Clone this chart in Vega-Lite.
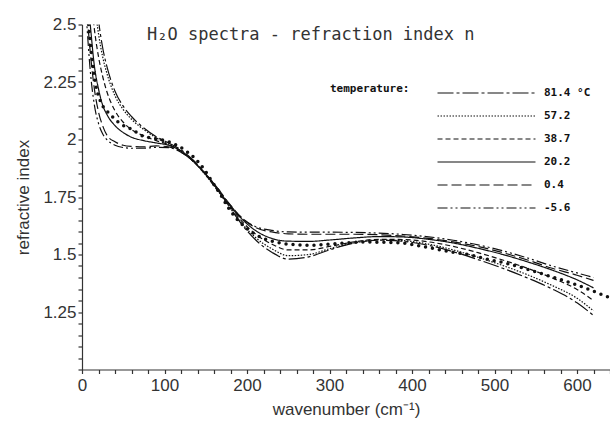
{
  "$schema": "https://vega.github.io/schema/vega-lite/v6.json",
  "width": 528,
  "height": 345,
  "autosize": {"type": "none"},
  "padding": {"left": 82, "top": 24.5, "right": 0, "bottom": 56.5},
  "background": "white",
  "title": {"text": "H₂O spectra - refraction index n", "anchor": "start", "frame": "group", "orient": "top", "offset": -17, "dx": 65, "dy": 24, "baseline": "alphabetic", "font": "DejaVu Sans Mono", "fontSize": 17, "fontWeight": "normal", "color": "#333"},
  "config": {
    "view": {"stroke": null},
    "font": "Liberation Sans",
    "axis": {"grid": false, "domainColor": "#333", "tickColor": "#333", "labelColor": "#333", "titleColor": "#333", "labelFont": "Liberation Sans", "titleFont": "Liberation Sans", "labelFontSize": 17, "titleFontSize": 17, "titleFontWeight": "normal", "tickSize": 4, "domainWidth": 1.2, "tickWidth": 1.2}
  },
  "datasets": {
    "curves": [
      {"t":"81.4","x":5,"n":3.3},{"t":"81.4","x":10,"n":2.95},{"t":"81.4","x":15,"n":2.7},{"t":"81.4","x":20,"n":2.52},{"t":"81.4","x":25,"n":2.40},{"t":"81.4","x":30,"n":2.32},{"t":"81.4","x":40,"n":2.21},{"t":"81.4","x":50,"n":2.145},{"t":"81.4","x":60,"n":2.1},{"t":"81.4","x":75,"n":2.05},{"t":"81.4","x":90,"n":2.012},{"t":"81.4","x":105,"n":1.985},{"t":"81.4","x":120,"n":1.955},{"t":"81.4","x":135,"n":1.91},{"t":"81.4","x":150,"n":1.85},{"t":"81.4","x":165,"n":1.78},{"t":"81.4","x":180,"n":1.70},{"t":"81.4","x":195,"n":1.625},{"t":"81.4","x":210,"n":1.565},{"t":"81.4","x":230,"n":1.51},{"t":"81.4","x":250,"n":1.48},{"t":"81.4","x":275,"n":1.49},{"t":"81.4","x":300,"n":1.52},{"t":"81.4","x":330,"n":1.55},{"t":"81.4","x":360,"n":1.562},{"t":"81.4","x":390,"n":1.557},{"t":"81.4","x":420,"n":1.54},{"t":"81.4","x":450,"n":1.512},{"t":"81.4","x":480,"n":1.478},{"t":"81.4","x":510,"n":1.44},{"t":"81.4","x":540,"n":1.398},{"t":"81.4","x":570,"n":1.35},{"t":"81.4","x":600,"n":1.29},{"t":"81.4","x":620,"n":1.235},
      {"t":"57.2","x":5,"n":3.1},{"t":"57.2","x":10,"n":2.82},{"t":"57.2","x":15,"n":2.6},{"t":"57.2","x":20,"n":2.46},{"t":"57.2","x":25,"n":2.36},{"t":"57.2","x":30,"n":2.29},{"t":"57.2","x":40,"n":2.19},{"t":"57.2","x":50,"n":2.13},{"t":"57.2","x":60,"n":2.088},{"t":"57.2","x":75,"n":2.043},{"t":"57.2","x":90,"n":2.007},{"t":"57.2","x":105,"n":1.98},{"t":"57.2","x":120,"n":1.95},{"t":"57.2","x":135,"n":1.905},{"t":"57.2","x":150,"n":1.845},{"t":"57.2","x":165,"n":1.775},{"t":"57.2","x":180,"n":1.70},{"t":"57.2","x":195,"n":1.63},{"t":"57.2","x":210,"n":1.575},{"t":"57.2","x":230,"n":1.525},{"t":"57.2","x":250,"n":1.495},{"t":"57.2","x":275,"n":1.5},{"t":"57.2","x":300,"n":1.525},{"t":"57.2","x":330,"n":1.55},{"t":"57.2","x":360,"n":1.563},{"t":"57.2","x":390,"n":1.56},{"t":"57.2","x":420,"n":1.545},{"t":"57.2","x":450,"n":1.52},{"t":"57.2","x":480,"n":1.488},{"t":"57.2","x":510,"n":1.452},{"t":"57.2","x":540,"n":1.412},{"t":"57.2","x":570,"n":1.365},{"t":"57.2","x":600,"n":1.31},{"t":"57.2","x":620,"n":1.255},
      {"t":"38.7","x":5,"n":2.9},{"t":"38.7","x":10,"n":2.66},{"t":"38.7","x":15,"n":2.48},{"t":"38.7","x":20,"n":2.36},{"t":"38.7","x":25,"n":2.275},{"t":"38.7","x":30,"n":2.21},{"t":"38.7","x":40,"n":2.125},{"t":"38.7","x":50,"n":2.075},{"t":"38.7","x":60,"n":2.043},{"t":"38.7","x":75,"n":2.016},{"t":"38.7","x":90,"n":1.995},{"t":"38.7","x":105,"n":1.978},{"t":"38.7","x":120,"n":1.95},{"t":"38.7","x":135,"n":1.905},{"t":"38.7","x":150,"n":1.845},{"t":"38.7","x":165,"n":1.775},{"t":"38.7","x":180,"n":1.705},{"t":"38.7","x":195,"n":1.64},{"t":"38.7","x":210,"n":1.59},{"t":"38.7","x":230,"n":1.545},{"t":"38.7","x":250,"n":1.52},{"t":"38.7","x":275,"n":1.52},{"t":"38.7","x":300,"n":1.535},{"t":"38.7","x":330,"n":1.555},{"t":"38.7","x":360,"n":1.566},{"t":"38.7","x":390,"n":1.565},{"t":"38.7","x":420,"n":1.555},{"t":"38.7","x":450,"n":1.535},{"t":"38.7","x":480,"n":1.508},{"t":"38.7","x":510,"n":1.476},{"t":"38.7","x":540,"n":1.44},{"t":"38.7","x":570,"n":1.398},{"t":"38.7","x":600,"n":1.348},{"t":"38.7","x":620,"n":1.30},
      {"t":"20.2","x":5,"n":2.7},{"t":"20.2","x":10,"n":2.5},{"t":"20.2","x":15,"n":2.32},{"t":"20.2","x":20,"n":2.22},{"t":"20.2","x":25,"n":2.15},{"t":"20.2","x":30,"n":2.11},{"t":"20.2","x":40,"n":2.06},{"t":"20.2","x":50,"n":2.03},{"t":"20.2","x":60,"n":2.01},{"t":"20.2","x":75,"n":1.995},{"t":"20.2","x":90,"n":1.985},{"t":"20.2","x":105,"n":1.975},{"t":"20.2","x":120,"n":1.95},{"t":"20.2","x":135,"n":1.905},{"t":"20.2","x":150,"n":1.848},{"t":"20.2","x":165,"n":1.78},{"t":"20.2","x":180,"n":1.71},{"t":"20.2","x":195,"n":1.65},{"t":"20.2","x":210,"n":1.605},{"t":"20.2","x":230,"n":1.57},{"t":"20.2","x":250,"n":1.558},{"t":"20.2","x":275,"n":1.557},{"t":"20.2","x":300,"n":1.563},{"t":"20.2","x":330,"n":1.572},{"t":"20.2","x":360,"n":1.578},{"t":"20.2","x":390,"n":1.576},{"t":"20.2","x":420,"n":1.566},{"t":"20.2","x":450,"n":1.55},{"t":"20.2","x":480,"n":1.527},{"t":"20.2","x":510,"n":1.5},{"t":"20.2","x":540,"n":1.468},{"t":"20.2","x":570,"n":1.432},{"t":"20.2","x":600,"n":1.39},{"t":"20.2","x":620,"n":1.355},
      {"t":"0.4","x":5,"n":2.6},{"t":"0.4","x":10,"n":2.38},{"t":"0.4","x":15,"n":2.22},{"t":"0.4","x":20,"n":2.12},{"t":"0.4","x":25,"n":2.06},{"t":"0.4","x":30,"n":2.02},{"t":"0.4","x":40,"n":1.99},{"t":"0.4","x":50,"n":1.975},{"t":"0.4","x":60,"n":1.97},{"t":"0.4","x":75,"n":1.968},{"t":"0.4","x":90,"n":1.972},{"t":"0.4","x":105,"n":1.968},{"t":"0.4","x":120,"n":1.945},{"t":"0.4","x":135,"n":1.905},{"t":"0.4","x":150,"n":1.85},{"t":"0.4","x":165,"n":1.785},{"t":"0.4","x":180,"n":1.715},{"t":"0.4","x":195,"n":1.655},{"t":"0.4","x":210,"n":1.618},{"t":"0.4","x":230,"n":1.598},{"t":"0.4","x":250,"n":1.59},{"t":"0.4","x":275,"n":1.588},{"t":"0.4","x":300,"n":1.588},{"t":"0.4","x":330,"n":1.588},{"t":"0.4","x":360,"n":1.586},{"t":"0.4","x":390,"n":1.58},{"t":"0.4","x":420,"n":1.57},{"t":"0.4","x":450,"n":1.555},{"t":"0.4","x":480,"n":1.535},{"t":"0.4","x":510,"n":1.508},{"t":"0.4","x":540,"n":1.476},{"t":"0.4","x":570,"n":1.44},{"t":"0.4","x":600,"n":1.41},{"t":"0.4","x":620,"n":1.387},
      {"t":"-5.6","x":5,"n":2.55},{"t":"-5.6","x":10,"n":2.3},{"t":"-5.6","x":15,"n":2.15},{"t":"-5.6","x":20,"n":2.07},{"t":"-5.6","x":25,"n":2.025},{"t":"-5.6","x":30,"n":2.0},{"t":"-5.6","x":40,"n":1.975},{"t":"-5.6","x":50,"n":1.965},{"t":"-5.6","x":60,"n":1.962},{"t":"-5.6","x":75,"n":1.962},{"t":"-5.6","x":90,"n":1.966},{"t":"-5.6","x":105,"n":1.965},{"t":"-5.6","x":120,"n":1.945},{"t":"-5.6","x":135,"n":1.905},{"t":"-5.6","x":150,"n":1.85},{"t":"-5.6","x":165,"n":1.785},{"t":"-5.6","x":180,"n":1.712},{"t":"-5.6","x":195,"n":1.655},{"t":"-5.6","x":210,"n":1.622},{"t":"-5.6","x":230,"n":1.605},{"t":"-5.6","x":250,"n":1.598},{"t":"-5.6","x":275,"n":1.597},{"t":"-5.6","x":300,"n":1.597},{"t":"-5.6","x":330,"n":1.596},{"t":"-5.6","x":360,"n":1.593},{"t":"-5.6","x":390,"n":1.587},{"t":"-5.6","x":420,"n":1.577},{"t":"-5.6","x":450,"n":1.562},{"t":"-5.6","x":480,"n":1.542},{"t":"-5.6","x":510,"n":1.516},{"t":"-5.6","x":540,"n":1.485},{"t":"-5.6","x":570,"n":1.45},{"t":"-5.6","x":600,"n":1.42},{"t":"-5.6","x":620,"n":1.40}
    ],
    "dots": [
      {"x":8,"n":2.5},{"x":12,"n":2.36},{"x":16,"n":2.25},{"x":22,"n":2.17},{"x":34,"n":2.11},{"x":46,"n":2.07},{"x":60,"n":2.045},{"x":74,"n":2.015},{"x":86,"n":2.005},{"x":98,"n":1.997},{"x":109,"n":1.985},{"x":119,"n":1.967},{"x":128,"n":1.945},{"x":139,"n":1.91},{"x":148,"n":1.87},{"x":157,"n":1.82},{"x":168,"n":1.76},{"x":178,"n":1.70},{"x":190,"n":1.645},{"x":200,"n":1.612},{"x":215,"n":1.578},{"x":230,"n":1.558},{"x":250,"n":1.545},{"x":275,"n":1.54},{"x":300,"n":1.545},{"x":340,"n":1.554},{"x":380,"n":1.552},{"x":420,"n":1.53},{"x":445,"n":1.513},{"x":473,"n":1.496},{"x":493,"n":1.478},{"x":514,"n":1.462},{"x":533,"n":1.443},{"x":554,"n":1.42},{"x":574,"n":1.398},{"x":594,"n":1.375},{"x":615,"n":1.347},{"x":638,"n":1.315}
    ]
  },
  "encoding": {
    "x": {"type": "quantitative", "scale": {"domain": [0, 640], "nice": false},
      "axis": {"title": "wavenumber (cm⁻¹)", "values": [0,20,40,60,80,100,120,140,160,180,200,220,240,260,280,300,320,340,360,380,400,420,440,460,480,500,520,540,560,580,600,620,640], "labelExpr": "datum.value % 100 == 0 ? datum.label : ''", "labelPadding": 4, "titlePadding": 8, "labelFlush": false}},
    "y": {"type": "quantitative", "scale": {"domain": [1, 2.5], "nice": false},
      "axis": {"title": "refractive index", "values": [1,1.05,1.1,1.15,1.2,1.25,1.3,1.35,1.4,1.45,1.5,1.55,1.6,1.65,1.7,1.75,1.8,1.85,1.9,1.95,2,2.05,2.1,2.15,2.2,2.25,2.3,2.35,2.4,2.45,2.5], "labelExpr": "(abs(datum.value*4 - round(datum.value*4)) < 0.001 && datum.value > 1.01) ? ('' + datum.value) : ''", "labelPadding": 2, "titlePadding": 10, "labelFlush": false}}
  },
  "layer": [
    {
      "mark": {"type": "rule", "color": "#444", "strokeWidth": 1},
      "encoding": {"y": {"datum": 1.45}, "x": null}
    },
    {
      "mark": {"type": "text", "text": "n infinity = 1.45", "font": "DejaVu Sans Mono", "fontSize": 8, "align": "left", "baseline": "middle", "color": "#333"},
      "encoding": {"x": {"datum": 48}, "y": {"datum": 1.406}}
    },
    {
      "data": {"name": "curves"},
      "mark": {"type": "line", "color": "#111", "strokeWidth": 1.2, "interpolate": "monotone", "clip": true},
      "encoding": {
        "x": {"field": "x"},
        "y": {"field": "n"},
        "strokeDash": {"field": "t", "type": "nominal",
          "scale": {"domain": ["81.4","57.2","38.7","20.2","0.4","-5.6"], "range": [[16,3,3,3],[1.5,1.5],[5,3],[1,0],[10,4],[10,3,2,3,2,3]]},
          "legend": {"orient": "none", "legendX": 248, "legendY": 58, "direction": "vertical", "title": "temperature:", "titleOrient": "left", "titleAnchor": "start", "titleFont": "DejaVu Sans Mono", "titleFontWeight": "bold", "titleFontSize": 11, "titleColor": "#111", "titlePadding": 66, "symbolType": "M-5,0H5", "symbolSize": 384, "symbolStrokeWidth": 1.2, "symbolStrokeColor": "#111", "labelOffset": 47, "labelFont": "DejaVu Sans Mono", "labelFontWeight": "bold", "labelFontSize": 11, "labelColor": "#111", "rowPadding": 7, "labelExpr": "datum.label == '81.4' ? '81.4 °C' : datum.label"}}
      }
    },
    {
      "data": {"name": "dots"},
      "mark": {"type": "line", "color": "#111", "strokeWidth": 3.5, "strokeDash": [0, 7], "strokeCap": "round", "interpolate": "monotone", "clip": true},
      "encoding": {"x": {"field": "x"}, "y": {"field": "n"}}
    }
  ]
}
